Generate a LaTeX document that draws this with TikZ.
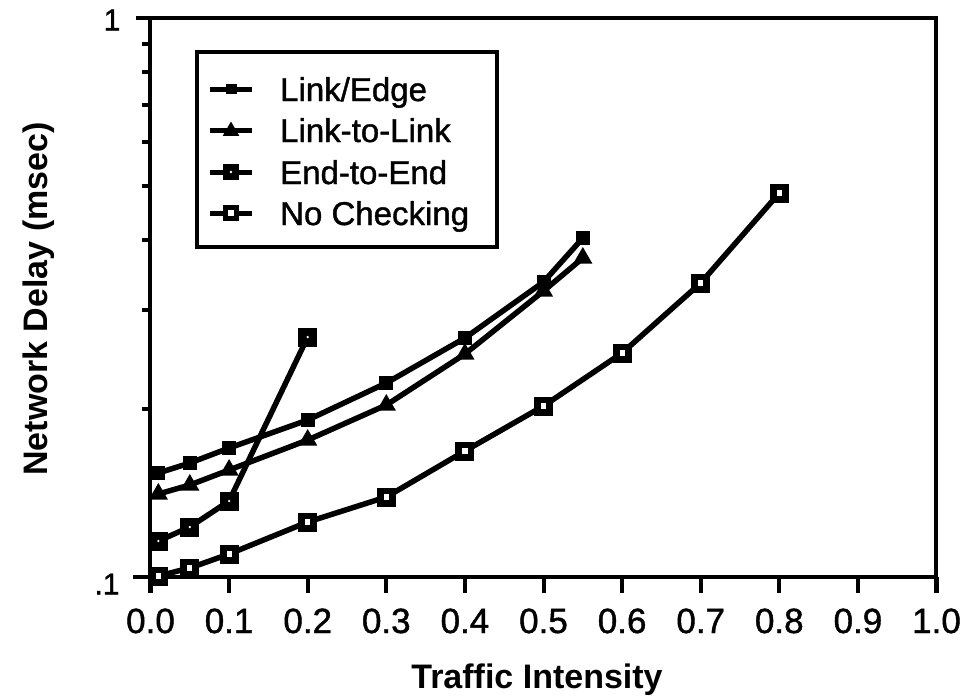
\documentclass[tikz,border=0pt]{standalone}
\usepackage{fontspec}
\setmainfont{Liberation Sans}
\newfontfamily\inkfont[FakeBold=1.2]{Liberation Sans}
\usetikzlibrary{shapes.geometric}
\tikzset{
  frame/.style={line width=4pt, line cap=butt},
  dataline/.style={line width=5.5pt, line join=round, line cap=round},
  legline/.style={line width=5pt},
  mkLE/.style={rectangle, fill=black, minimum size=14pt, inner sep=0pt},
  mkLL/.style={regular polygon, regular polygon sides=3, fill=black, minimum size=22pt, inner sep=0pt},
  mkEE/.style={rectangle, fill=black, minimum size=19pt, inner sep=0pt,
    path picture={\fill[white] (path picture bounding box.center) circle (1.3pt);}},
  mkNC/.style={rectangle, fill=black, minimum size=19pt, inner sep=0pt,
    path picture={\fill[white] ([xshift=-2.6pt,yshift=-3.2pt]path picture bounding box.center) rectangle ([xshift=2.6pt,yshift=3.2pt]path picture bounding box.center);}},
  ticklab/.style={anchor=base, font=\inkfont\fontsize{35}{40}\selectfont, inner sep=0pt},
  ylab/.style={font=\inkfont\fontsize{30}{34}\selectfont, inner sep=0pt},
  legtext/.style={anchor=base west, font=\inkfont\fontsize{33}{38}\selectfont, inner sep=0pt},
  axtitle/.style={anchor=base, font=\fontsize{34}{38}\selectfont\bfseries, inner sep=0pt}
}
\begin{document}
\begin{tikzpicture}[x=1pt,y=-1pt]
\useasboundingbox (0,0) rectangle (969,696);
\fill[white] (0,0) rectangle (969,696);

% frame
\coordinate (ftl) at (150,18);
\coordinate (ftr) at (936,18);
\coordinate (fbl) at (150,577);
\coordinate (fbr) at (936,577);
\coordinate (ftopext) at (136,18);
\coordinate (fbotext) at (133,577);
\coordinate (fleftext) at (150,593);
\coordinate (frightext) at (936,593);
\draw[frame] (ftopext) -- (ftr) -- (frightext);
\draw[frame] (fbotext) -- (fbr);
\draw[frame] (ftl) -- (fleftext);

% x ticks and labels
\foreach \i/\t in {0/0.0,1/0.1,2/0.2,3/0.3,4/0.4,5/0.5,6/0.6,7/0.7,8/0.8,9/0.9,10/1.0}{
  \draw[frame] ({150.5+78.6*\i},577) -- ({150.5+78.6*\i},593);
  \node[ticklab] (xl\i) at ({150.5+78.6*\i},633) {\t};
}
% y minor ticks (log scale)
\foreach \v in {2,...,9}{
  \draw[frame] (142,{577-559*ln(\v)/ln(10)}) -- (150,{577-559*ln(\v)/ln(10)});
}
\node[ylab] (ylone) at (112,20) {1};
\node[ylab] (yltenth) at (107,584) {.1};

% axis titles
\node[axtitle] (xtitle) at (537,688) {Traffic Intensity};
\node[axtitle, rotate=90] (ytitle) at (47,299) {Network Delay (msec)};

% data coordinates
\foreach \x/\y [count=\k] in {0.01/473,0.05/463,0.1/448,0.2/420,0.3/383,0.4/338,0.5/282,0.55/238}
  {\coordinate (le\k) at ({150.5+786*\x},\y);}
\foreach \x/\y [count=\k] in {0.01/494,0.05/485,0.1/470,0.2/440,0.3/405,0.4/354,0.5/291,0.55/258}
  {\coordinate (ll\k) at ({150.5+786*\x},\y);}
\foreach \x/\y [count=\k] in {0.01/541,0.05/527,0.1/501,0.2/337}
  {\coordinate (ee\k) at ({150.5+786*\x},\y);}
\foreach \x/\y [count=\k] in {0.01/576,0.05/568,0.1/554,0.2/522,0.3/497,0.4/451,0.5/406,0.6/353,0.7/283,0.8/193}
  {\coordinate (nc\k) at ({150.5+786*\x},\y);}

% data lines
\draw[dataline] (le1) \foreach \k in {2,...,8}{-- (le\k)};
\draw[dataline] (ll1) \foreach \k in {2,...,8}{-- (ll\k)};
\draw[dataline] (ee1) \foreach \k in {2,...,4}{-- (ee\k)};
\draw[dataline] (nc1) \foreach \k in {2,...,10}{-- (nc\k)};

% markers
\foreach \k in {1,...,8}{\node[mkLE] (mle\k) at (le\k) {};}
\foreach \k in {1,...,8}{\node[mkLL] (mll\k) at (ll\k) {};}
\foreach \k in {1,...,4}{\node[mkEE] (mee\k) at (ee\k) {};}
\foreach \k in {1,...,10}{\node[mkNC] (mnc\k) at (nc\k) {};}

% legend
\coordinate (lgtl) at (197,52);
\coordinate (lgbr) at (497,247);
\draw[line width=3.5pt] (lgtl) rectangle (lgbr);

\coordinate (lga1) at (210,89);  \coordinate (lgb1) at (252,89);
\coordinate (lga2) at (210,130); \coordinate (lgb2) at (252,130);
\coordinate (lga3) at (210,172); \coordinate (lgb3) at (252,172);
\coordinate (lga4) at (210,213); \coordinate (lgb4) at (252,213);
\foreach \k in {1,...,4}{\draw[legline] (lga\k) -- (lgb\k);}
\node[mkLE, minimum width=11pt, minimum height=10pt] (lgm1) at (231,89) {};
\node[mkLL, minimum size=19pt] (lgm2) at (231,131) {};
\node[mkEE, minimum size=16pt] (lgm3) at (231,172) {};
\node[mkNC, minimum size=16pt] (lgm4) at (231,213) {};
\node[legtext] (lgt1) at (280,101) {Link/Edge};
\node[legtext] (lgt2) at (280,142) {Link-to-Link};
\node[legtext] (lgt3) at (280,184) {End-to-End};
\node[legtext] (lgt4) at (280,225) {No Checking};
\end{tikzpicture}
\end{document}
